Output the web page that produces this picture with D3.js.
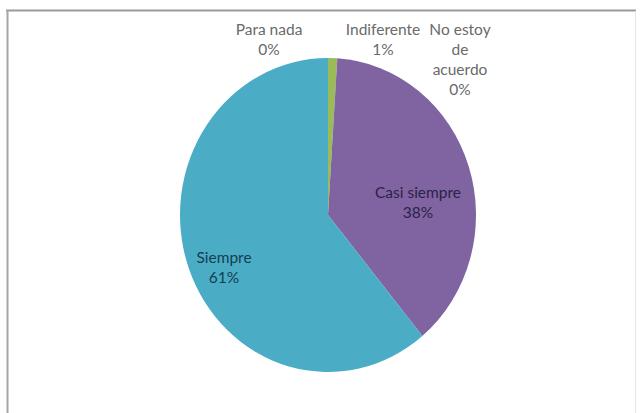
<!DOCTYPE html>
<html>
<head>
<meta charset="utf-8">
<script src="https://cdn.jsdelivr.net/npm/d3@7"></script>
<style>
  body { margin: 0; background: #fff; }
  text { font-family: Lato, "Open Sans", sans-serif; font-size: 15.5px; }
</style>
</head>
<body>
<svg width="640" height="413"></svg>
<script>
// categories and values (percent), in drawing order from 12 o'clock clockwise
let categories = ["Para nada", "Indiferente", "No estoy de acuerdo", "Casi siempre", "Siempre"];
let values = [0, 1, 0, 38, 61];
let pctLabels = ["0%", "1%", "0%", "38%", "61%"];
let labelLines = [["Para nada"], ["Indiferente"], ["No estoy", "de", "acuerdo"], ["Casi siempre"], ["Siempre"]];
let colors = ["#4f81bd", "#9bbb59", "#c0504d", "#8064a2", "#4bacc6"];

let width = 640;
let height = 413;
let cx = 328;
let cy = 215;
let rx = 148;
let ry = 157;

// label anchor offsets from the pie centre (Excel "best fit" placement)
let labelOffsets = [[-59, -180], [55, -180], [132, -180], [90, -17], [-104, 48]];
let labelColors = ["#6a6a6a", "#6a6a6a", "#6a6a6a", "#2b2247", "#12404f"];
let lineHeight = 20;

let svg = d3.select("svg")
  .attr("width", width)
  .attr("height", height);

// chart area frame: top/left edge darker, right edge faint
let frame = svg.append("g").attr("fill", "none");
frame.append("line")
  .attr("x1", 6).attr("x2", 636).attr("y1", 10.5).attr("y2", 10.5)
  .attr("stroke", "#9a9a9a").attr("stroke-width", 2);
frame.append("line")
  .attr("x1", 7.5).attr("x2", 7.5).attr("y1", 10).attr("y2", height)
  .attr("stroke", "#a6a6a6").attr("stroke-width", 2);
frame.append("line")
  .attr("x1", 635.5).attr("x2", 635.5).attr("y1", 11).attr("y2", height)
  .attr("stroke", "#e6e6e6").attr("stroke-width", 1);

let pie = d3.pie().sort(null).value((d) => d);
let arcs = pie(values);
let arc = d3.arc().innerRadius(0).outerRadius(rx);

// pie is slightly taller than wide, so scale a circle vertically
svg.append("g")
  .attr("transform", "translate(" + cx + "," + cy + ") scale(1," + (ry / rx) + ")")
  .selectAll("path")
  .data(arcs)
  .enter()
  .append("path")
  .attr("d", arc)
  .attr("fill", (d, i) => colors[i]);

let labels = svg.append("g")
  .selectAll("text")
  .data(arcs)
  .enter()
  .append("text")
  .attr("text-anchor", "middle")
  .attr("fill", (d, i) => labelColors[i])
  .attr("x", (d, i) => cx + labelOffsets[i][0])
  .attr("y", (d, i) => cy + labelOffsets[i][1]);

labels.each(function (d, i) {
  let lines = labelLines[i].concat([pctLabels[i]]);
  d3.select(this)
    .selectAll("tspan")
    .data(lines)
    .enter()
    .append("tspan")
    .attr("x", cx + labelOffsets[i][0])
    .attr("dy", (t, j) => (j === 0 ? 0 : lineHeight))
    .text((t) => t);
});
</script>
</body>
</html>
